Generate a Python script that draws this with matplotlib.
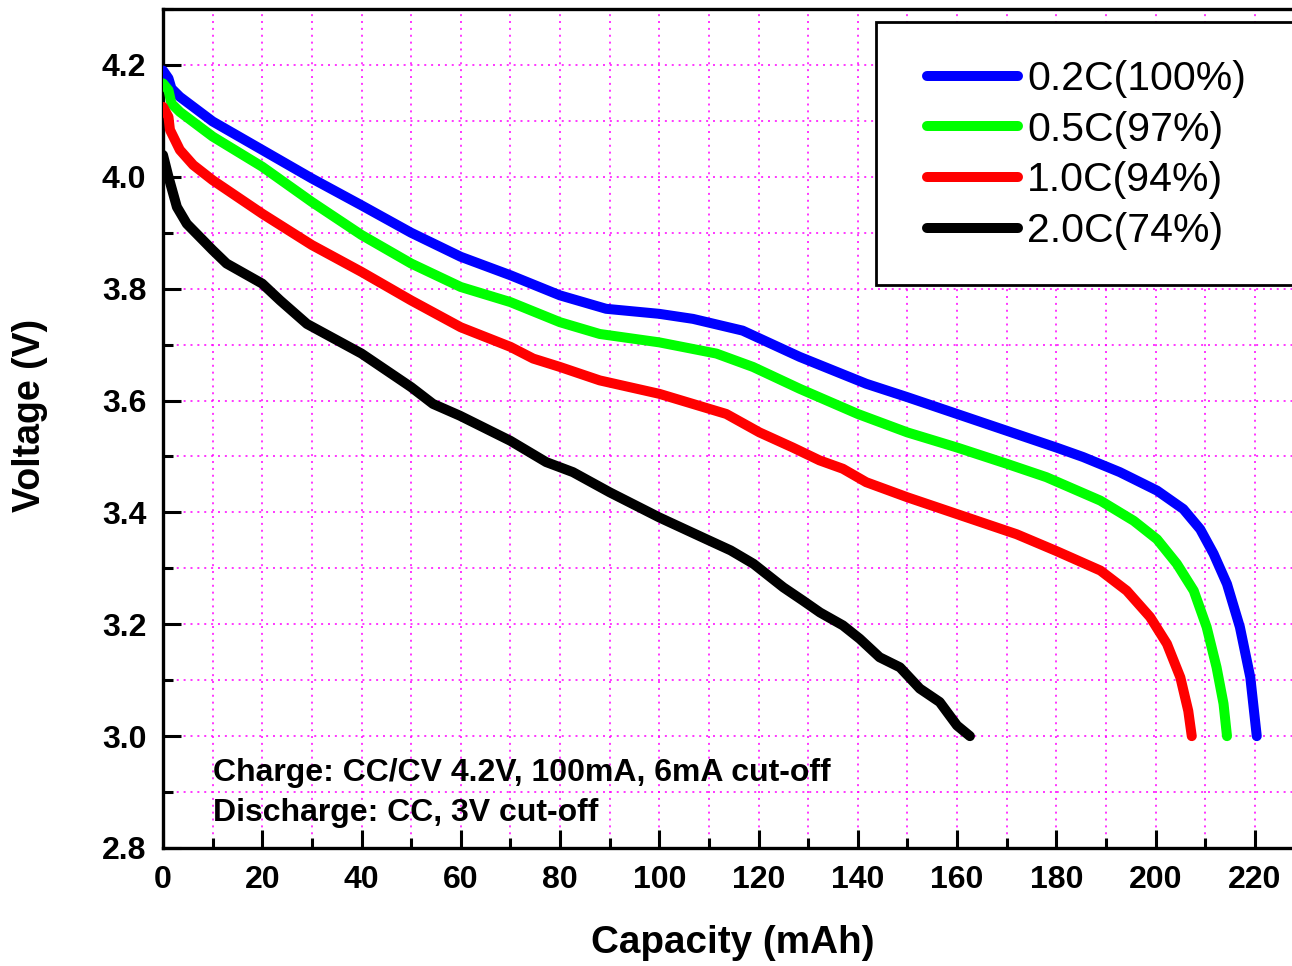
import matplotlib
matplotlib.use("Agg")
import matplotlib.pyplot as plt
from matplotlib.ticker import MultipleLocator, FormatStrFormatter
from matplotlib.patches import Rectangle

plt.rcParams['font.family'] = ['Liberation Sans', 'DejaVu Sans']

# ---- data ----
cap_02 = [0, 1.1, 1.7, 3.4, 10, 20, 30, 40, 50, 60, 70, 80, 89.3, 100, 106.8, 116.8,
          128.3, 141.7, 150, 160, 170, 180, 185.4, 192.8, 200.3, 205.6, 209, 211.7,
          214.4, 217, 219.1, 220.4]
volt_02 = [4.19, 4.176, 4.158, 4.143, 4.099, 4.048, 3.997, 3.949, 3.900, 3.857, 3.824,
           3.788, 3.764, 3.755, 3.746, 3.725, 3.678, 3.630, 3.606, 3.576, 3.546, 3.516,
           3.499, 3.472, 3.439, 3.406, 3.370, 3.326, 3.272, 3.195, 3.105, 3.0]

cap_05 = [0, 1.1, 1.7, 3.4, 10, 20, 30, 40, 50, 60, 70, 80, 88, 100, 111.5, 118.9,
          128.3, 140, 150, 160, 170, 178, 188.9, 195.6, 200.3, 204.3, 207.7, 210.3,
          212.3, 213.7, 214.4]
volt_05 = [4.167, 4.155, 4.131, 4.116, 4.072, 4.018, 3.955, 3.896, 3.845, 3.803, 3.776,
           3.740, 3.719, 3.704, 3.684, 3.660, 3.621, 3.576, 3.543, 3.516, 3.487, 3.463,
           3.421, 3.385, 3.352, 3.308, 3.260, 3.195, 3.123, 3.058, 3.0]

cap_10 = [0, 1.1, 1.4, 3.4, 6.1, 10, 20, 30, 40, 50, 60, 70, 74.6, 80, 88, 100, 113.5,
          120.2, 126.9, 132.3, 137, 141.7, 150, 160, 172, 180, 188.9, 194.2, 198.9,
          202.3, 205, 206.6, 207.3]
volt_10 = [4.125, 4.107, 4.084, 4.048, 4.021, 3.994, 3.934, 3.878, 3.830, 3.779, 3.731,
           3.696, 3.675, 3.660, 3.636, 3.612, 3.576, 3.543, 3.516, 3.493, 3.478, 3.454,
           3.427, 3.397, 3.361, 3.331, 3.296, 3.260, 3.213, 3.165, 3.105, 3.045, 3.0]

cap_20 = [0, 1.1, 2.8, 4.8, 10, 12.8, 20, 23.6, 29, 40, 50, 54.4, 59.8, 70, 77.2, 82.6,
          90, 100, 109.5, 114.4, 119, 125, 129, 132.4, 137, 140.4, 144.4, 148.5, 152.5,
          156.5, 160, 162.6]
volt_20 = [4.039, 4.0, 3.946, 3.916, 3.869, 3.845, 3.809, 3.779, 3.737, 3.684, 3.624,
           3.594, 3.573, 3.528, 3.490, 3.472, 3.436, 3.391, 3.352, 3.332, 3.308, 3.266,
           3.242, 3.221, 3.198, 3.174, 3.141, 3.123, 3.085, 3.061, 3.019, 3.0]

labels = ['0.2C(100%)', '0.5C(97%)', '1.0C(94%)', '2.0C(74%)']
colors = ['#0000FF', '#00FF00', '#FF0000', '#000000']
note_lines = ['Charge: CC/CV 4.2V, 100mA, 6mA cut-off', 'Discharge: CC, 3V cut-off']

# ---- figure ----
W, H = 1292, 966
fig = plt.figure(figsize=(W / 100, H / 100), dpi=100)
ax = fig.add_axes([163 / W, 118 / H, 1129 / W, 839 / H])

def ax_x(px):
    return (px - 163) / 1129

def ax_y(py):
    return (H - py - 118) / 839

series = [(cap_02, volt_02), (cap_05, volt_05), (cap_10, volt_10), (cap_20, volt_20)]
for (xs, ys), c, lab in zip(series, colors, labels):
    ax.plot(xs, ys, color=c, lw=7.2, label=lab, solid_capstyle='round',
            solid_joinstyle='round', zorder=3)

ax.set_xlim(0, 227.5)
ax.set_ylim(2.8, 4.3)
ax.xaxis.set_major_locator(MultipleLocator(20))
ax.xaxis.set_minor_locator(MultipleLocator(10))
ax.yaxis.set_major_locator(MultipleLocator(0.2))
ax.yaxis.set_minor_locator(MultipleLocator(0.1))
ax.xaxis.set_major_formatter(FormatStrFormatter('%d'))
ax.yaxis.set_major_formatter(FormatStrFormatter('%.1f'))

ax.grid(True, which='both', color='#FF00FF', lw=1.1, linestyle=(0, (1.3, 3.2)))
ax.set_axisbelow(True)

ax.spines['right'].set_visible(False)
for s in ['left', 'bottom', 'top']:
    ax.spines[s].set_linewidth(2.4)

ax.tick_params(which='major', direction='in', length=13, width=2.2,
               labelsize=23, pad=12, top=False, right=False)
ax.tick_params(which='minor', direction='in', length=7, width=2.2, top=False, right=False)
for t in ax.get_xticklabels() + ax.get_yticklabels():
    t.set_fontweight('bold')

ax.set_xlabel('Capacity (mAh)', fontsize=27.8, fontweight='bold', va='center')
ax.set_ylabel('Voltage (V)', fontsize=27, fontweight='bold', va='center')
ax.xaxis.set_label_coords(0.505, -0.113)
ax.yaxis.set_label_coords(-0.118, 0.516)

ax.text(10.1, 2.934, note_lines[0], fontsize=23, fontweight='bold', va='center', ha='left', zorder=4)
ax.text(10.1, 2.862, note_lines[1], fontsize=23, fontweight='bold', va='center', ha='left', zorder=4)

# legend box (frame extends past the right edge as in the reference)
rx0, ry0 = ax_x(876), ax_y(285)
rect = Rectangle((rx0, ry0), ax_x(1320) - rx0, ax_y(22) - ry0, transform=ax.transAxes,
                 facecolor='white', edgecolor='black', lw=2.0, zorder=5, clip_on=False)
ax.add_patch(rect)

leg = ax.legend(loc='upper left', bbox_to_anchor=(ax_x(927), ax_y(60)),
                fontsize=29.5, frameon=False, handlelength=2.22, handletextpad=0.22,
                borderpad=0, labelspacing=0.31, borderaxespad=0)
for h in leg.get_lines():
    h.set_linewidth(7.2)
    h.set_solid_capstyle('round')
leg.set_zorder(6)

fig.savefig('out.png', dpi=100)
